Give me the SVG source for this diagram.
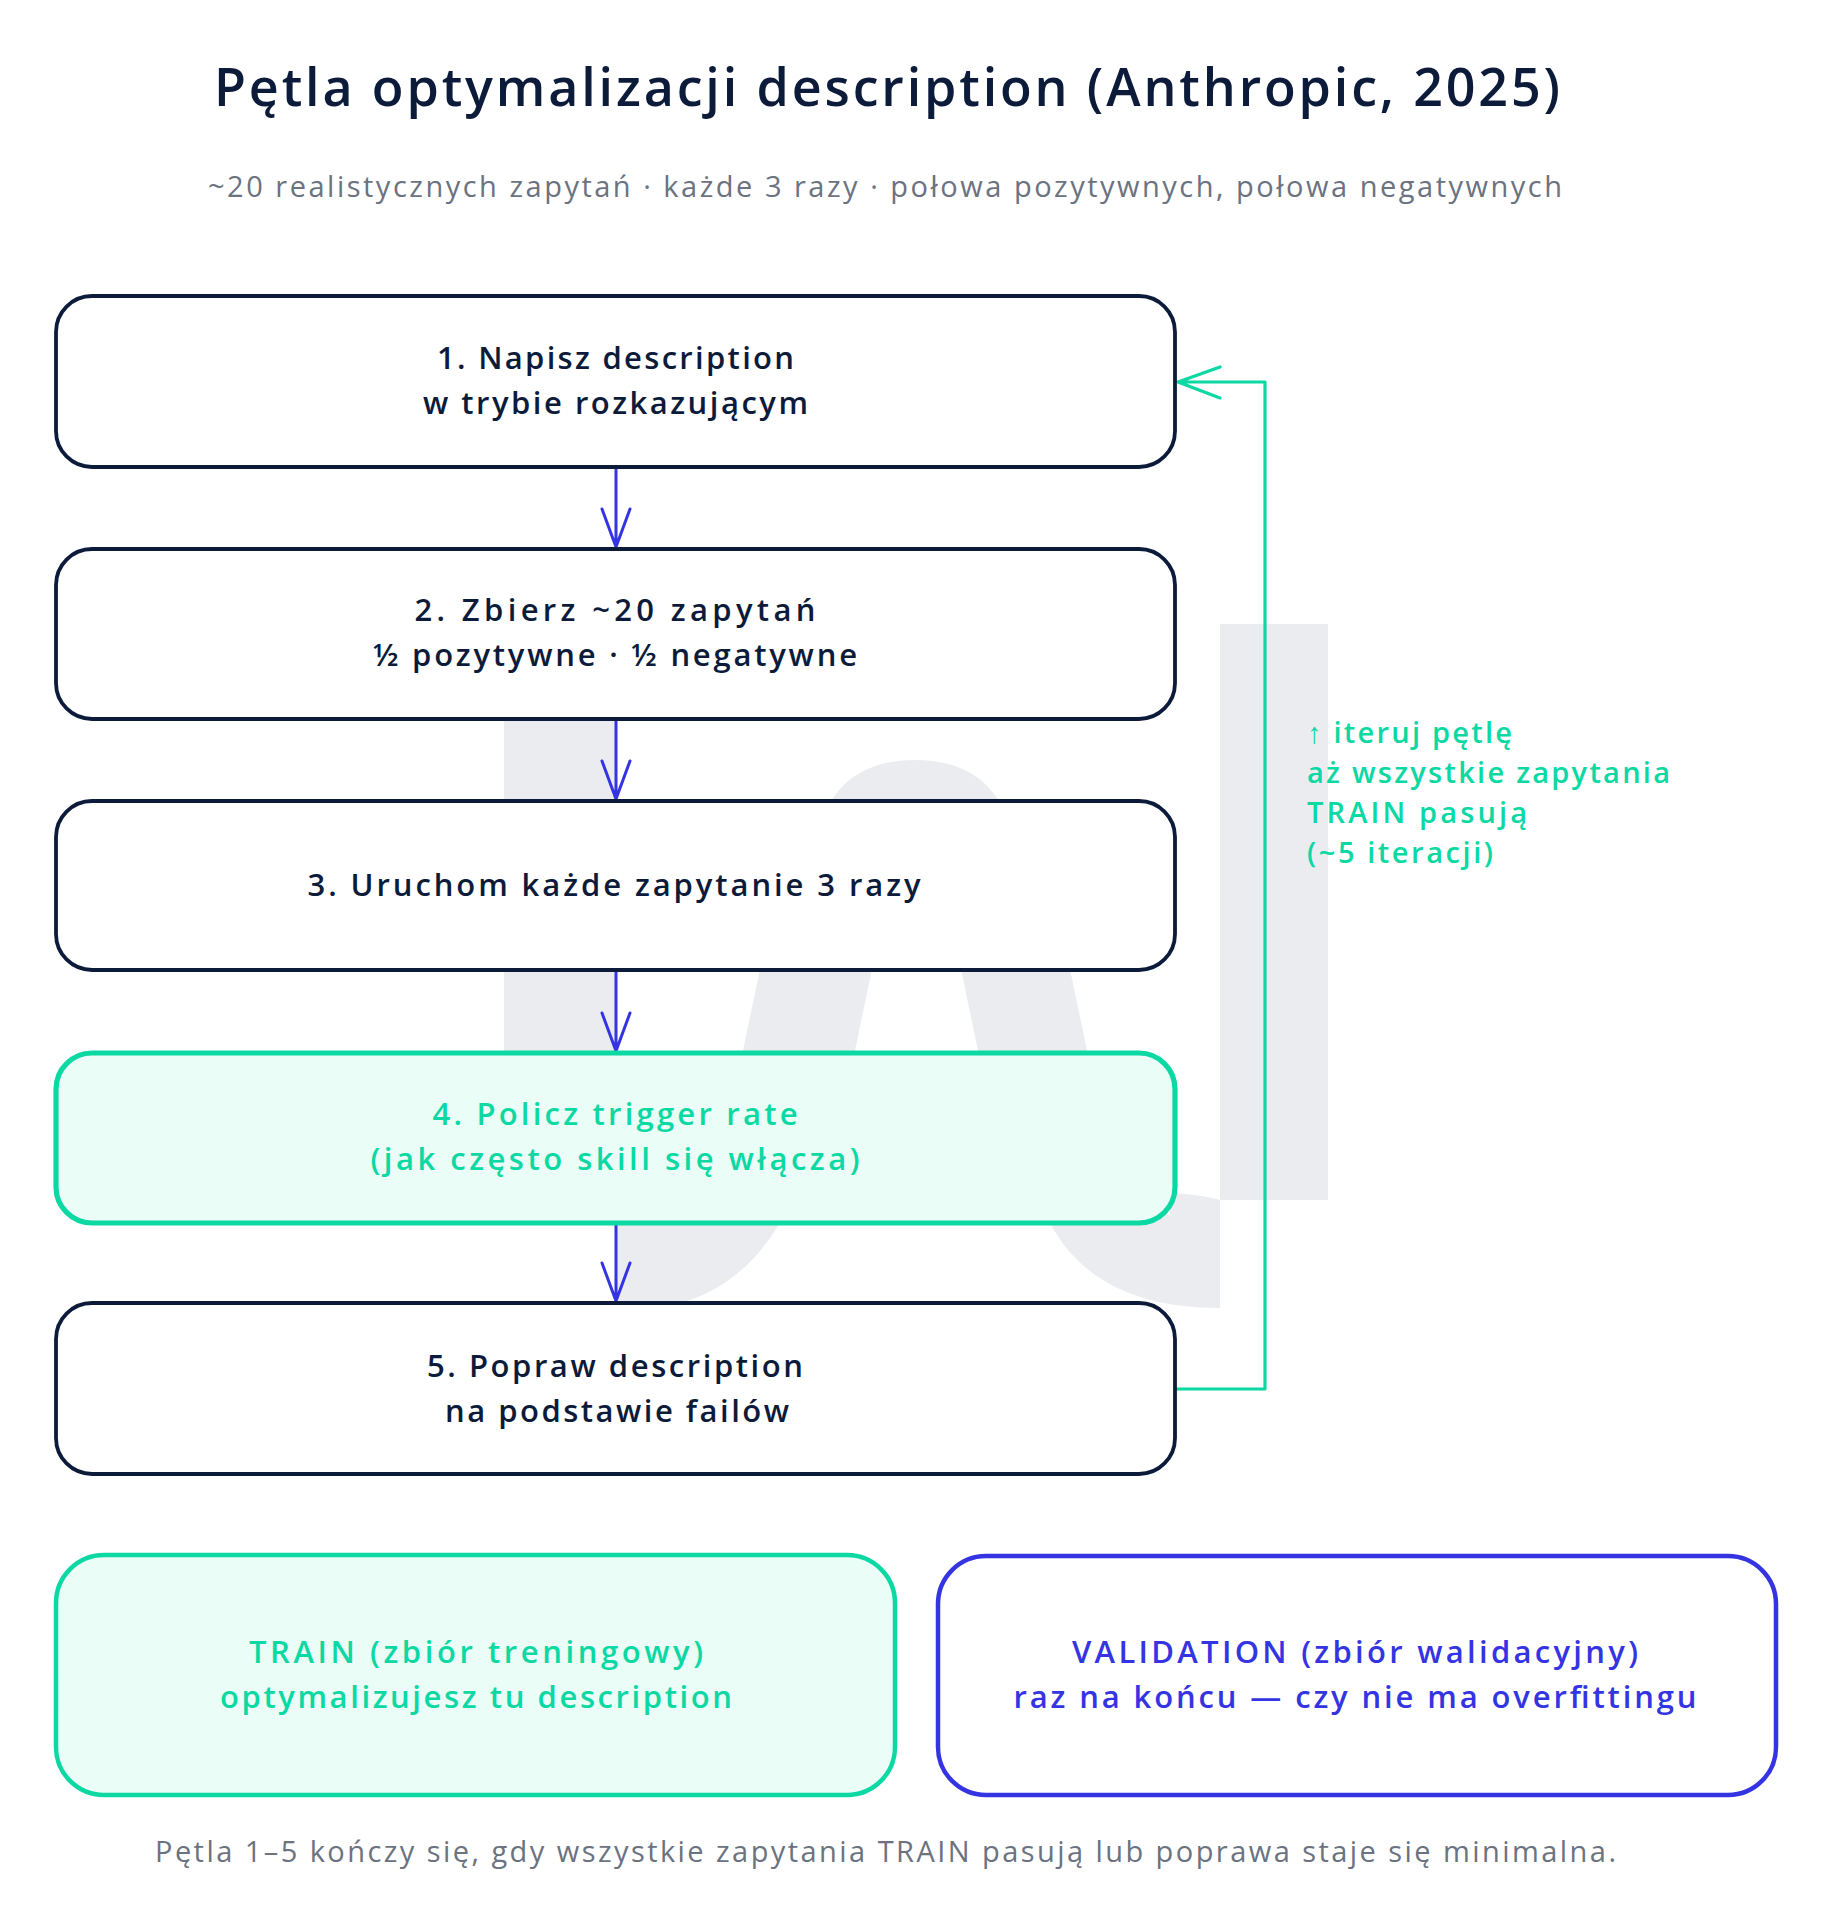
<svg xmlns="http://www.w3.org/2000/svg" width="1832" height="1932" viewBox="0 0 1832 1932">
<style>
text{font-family:"Open Sans","Liberation Sans",Arial,sans-serif;font-weight:600}
.t{font-size:52px;fill:#0c1b3a;text-anchor:middle}
.sub{font-size:29px;fill:#6b7280;text-anchor:middle;font-weight:500}
.nt{font-size:31px;fill:#0c1b3a;text-anchor:middle}
.gt{font-size:31px;fill:#0bd8a2;text-anchor:middle}
.bt{font-size:31px;fill:#3434e3;text-anchor:middle}
.ann{font-size:29px;fill:#0bd8a2}
.box{fill:#ffffff;stroke:#0c1b3a;stroke-width:3.8}
.gbox{fill:#eafdf7;stroke:#0bd8a2;stroke-width:5.2}
.vbox{fill:#ffffff;stroke:#3434e3;stroke-width:4.5}
.wm{fill:#ebecf0}
.arr{stroke:#3434e3;stroke-width:3;fill:none;stroke-linecap:round;stroke-linejoin:round}
.loop{stroke:#0bd8a2;stroke-width:3.2;fill:none;stroke-linecap:round;stroke-linejoin:round}
</style>
<rect width="1832" height="1932" fill="#ffffff"/>
<g id="watermark">
<rect class="wm" x="504" y="624" width="112" height="576"/>
<rect class="wm" x="1220" y="624" width="108" height="576"/>
<path class="wm" d="M829,805 C845,775 875,760 915,760 C955,760 985,775 1001,805 Z"/>
<path class="wm" d="M764,950 L876,950 L853,1060 L741,1060 Z"/>
<path class="wm" d="M957,950 L1066,950 L1089,1060 L980,1060 Z"/>
<path class="wm" d="M616,1215 L784,1215 C762,1258 722,1295 674,1304 L616,1304 Z"/>
<path class="wm" d="M1046,1215 C1074,1275 1130,1308 1220,1308 L1220,1200 C1205,1196 1190,1194 1170,1193 L1170,1215 Z"/>
</g>
<g id="title">
<text class="t" x="887" y="106" textLength="1346">Pętla optymalizacji description (Anthropic, 2025)</text>
<text class="sub" x="885" y="197" textLength="1354">~20 realistycznych zapytań · każde 3 razy · połowa pozytywnych, połowa negatywnych</text>
</g>
<g id="connectors">
<path class="arr" d="M616,467 L616,547 M602,509 L616,547 L630,509"/>
<path class="arr" d="M616,719 L616,799 M602,761 L616,799 L630,761"/>
<path class="arr" d="M616,970 L616,1051 M602,1013 L616,1051 L630,1013"/>
<path class="arr" d="M616,1223 L616,1301 M602,1263 L616,1301 L630,1263"/>
<path class="loop" d="M1177,1389 L1265,1389 L1265,382 L1178,382 M1220,367 L1178,382 L1220,398"/>
</g>
<g id="node1">
<rect class="box" x="56" y="296" width="1119" height="171" rx="36"/>
<text class="nt" x="615.5" y="369" textLength="357">1. Napisz description</text>
<text class="nt" x="615.5" y="414" textLength="385">w trybie rozkazującym</text>
</g>
<g id="node2">
<rect class="box" x="56" y="549" width="1119" height="170" rx="36"/>
<text class="nt" x="615" y="621" textLength="401">2. Zbierz ~20 zapytań</text>
<text class="nt" x="615" y="666" textLength="484">½ pozytywne · ½ negatywne</text>
</g>
<g id="node3">
<rect class="box" x="56" y="801" width="1119" height="169" rx="36"/>
<text class="nt" x="614" y="896" textLength="613">3. Uruchom każde zapytanie 3 razy</text>
</g>
<g id="node4">
<rect class="gbox" x="56" y="1053" width="1119" height="170" rx="36"/>
<text class="gt" x="615" y="1125" textLength="365">4. Policz trigger rate</text>
<text class="gt" x="615" y="1170" textLength="489">(jak często skill się włącza)</text>
</g>
<g id="node5">
<rect class="box" x="56" y="1303" width="1119" height="171" rx="36"/>
<text class="nt" x="615" y="1377" textLength="376">5. Popraw description</text>
<text class="nt" x="617" y="1422" textLength="344">na podstawie failów</text>
</g>
<g id="annotation">
<text class="ann" x="1307" y="743" textLength="205">↑ iteruj pętlę</text>
<text class="ann" x="1307" y="783" textLength="363">aż wszystkie zapytania</text>
<text class="ann" x="1307" y="823" textLength="220">TRAIN pasują</text>
<text class="ann" x="1307" y="863" textLength="186">(~5 iteracji)</text>
</g>
<g id="train">
<rect class="gbox" x="56" y="1555" width="839" height="240" rx="48" style="stroke-width:4.5"/>
<text class="gt" x="476" y="1663" textLength="454">TRAIN (zbiór treningowy)</text>
<text class="gt" x="476" y="1708" textLength="512">optymalizujesz tu description</text>
</g>
<g id="validation">
<rect class="vbox" x="938" y="1556" width="838" height="239" rx="48"/>
<text class="bt" x="1355" y="1663" textLength="566">VALIDATION (zbiór walidacyjny)</text>
<text class="bt" x="1355" y="1708" textLength="683">raz na końcu — czy nie ma overfittingu</text>
</g>
<g id="footer">
<text class="sub" x="885.5" y="1862" textLength="1461">Pętla 1–5 kończy się, gdy wszystkie zapytania TRAIN pasują lub poprawa staje się minimalna.</text>
</g>
</svg>
